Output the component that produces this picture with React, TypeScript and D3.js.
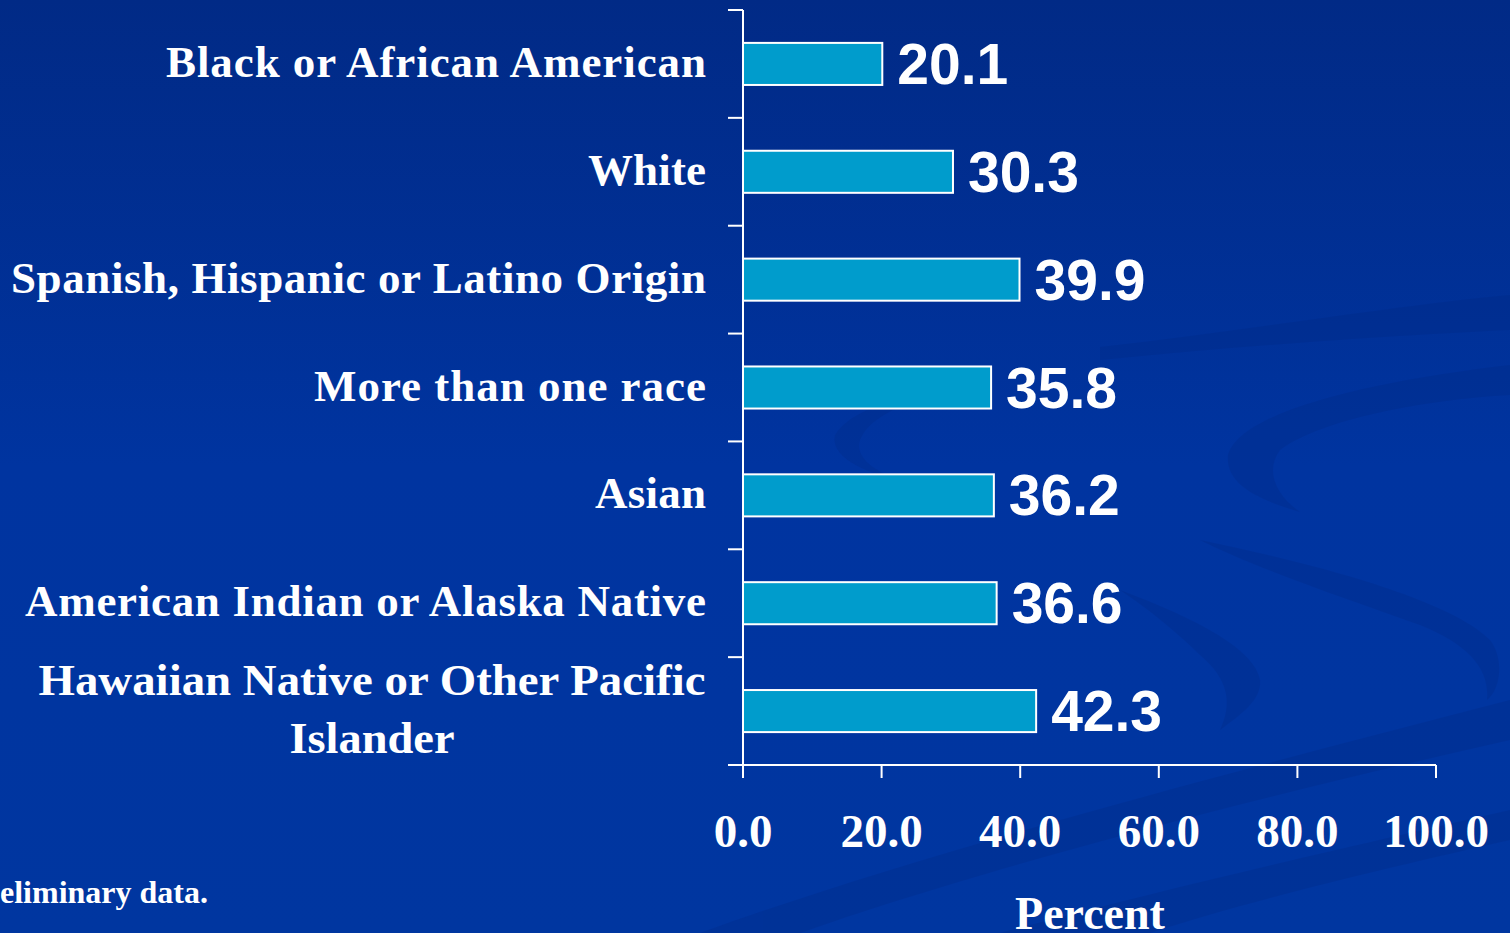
import React from "react";
import * as d3 from "d3";

// values
const categories = [
  "Black or African American",
  "White",
  "Spanish, Hispanic or Latino Origin",
  "More than one race",
  "Asian",
  "American Indian or Alaska Native",
  "Hawaiian Native or Other Pacific Islander",
];
const values = [20.1, 30.3, 39.9, 35.8, 36.2, 36.6, 42.3];
const xTicks = [0, 20, 40, 60, 80, 100];

const width = 1510;
const height = 933;
const serif = "'Liberation Serif', 'Times New Roman', serif";
const sans = "'Liberation Sans', Arial, sans-serif";

// measured label widths on the slide
const labelWidths = [540, 118, 695, 392, 111, 681, 667];

export default function App() {
  const x = d3.scaleLinear().domain([0, 100]).range([743, 1436]);
  const y = d3.scaleBand<string>()
    .domain(categories)
    .range([10, 765])
    .paddingInner(0.61)
    .paddingOuter(0.305);
  const step = y.step();
  const fmt = d3.format(".1f");

  return (
    <div style={{ position: "fixed", left: 0, top: 0 }}>
      <svg width={width} height={height} style={{ display: "block" }}>
        <defs>
          <linearGradient id="bg" x1="0" y1="0" x2="0" y2="1">
            <stop offset="0" stopColor="#012a86" />
            <stop offset="0.5" stopColor="#0034a0" />
            <stop offset="1" stopColor="#0036a0" />
          </linearGradient>
        </defs>
        <rect width={width} height={height} fill="url(#bg)" />

        {/* background swirls */}
        <g fill="#00287f" opacity={0.25}>
          <path d="M1100,347 C1250,330 1400,305 1510,295 L1510,330 C1400,335 1250,345 1100,360 Z" />
          <path d="M1510,365 C1380,380 1240,410 1228,455 C1225,485 1260,500 1300,512 C1275,495 1265,470 1280,450 C1320,420 1420,400 1510,395 Z" />
          <path d="M1200,540 C1320,565 1450,600 1490,640 C1505,660 1500,690 1487,700 C1490,670 1470,645 1420,625 C1350,600 1260,570 1200,540 Z" />
          <path d="M1120,590 C1200,620 1255,650 1260,680 C1262,700 1240,715 1220,730 C1232,705 1230,680 1200,655 C1180,635 1150,610 1120,590 Z" />
          <path d="M835,435 C850,410 900,395 960,388 C910,400 870,415 860,440 C855,455 870,470 900,480 C860,472 830,455 835,435 Z" />
          <path d="M700,933 C900,860 1200,780 1510,700 L1510,740 C1200,810 950,880 800,933 Z" />
          <path d="M1000,933 C1200,880 1380,840 1510,810 L1510,840 C1400,865 1250,900 1150,933 Z" />
        </g>

        {/* bars */}
        {categories.map((c, i) => (
          <rect
            key={c}
            x={x(0)}
            y={y(c)}
            width={x(values[i]) - x(0)}
            height={y.bandwidth()}
            fill="#009ccc"
            stroke="#ffffff"
            strokeWidth={2}
          />
        ))}

        {/* value labels */}
        {categories.map((c, i) => (
          <text
            key={c}
            x={x(values[i]) + 15}
            y={(y(c) as number) + y.bandwidth() / 2 + 20}
            fill="#ffffff"
            fontFamily={sans}
            fontWeight="bold"
            fontSize={57}
          >
            {fmt(values[i])}
          </text>
        ))}

        {/* category labels */}
        {categories.map((c, i) => {
          const cy = (y(c) as number) + y.bandwidth() / 2;
          if (i === categories.length - 1) {
            return (
              <text key={c} fill="#ffffff" fontFamily={serif} fontWeight="bold" fontSize={45} textAnchor="middle">
                <tspan x={372} y={cy - 16} textLength={667} lengthAdjust="spacingAndGlyphs">
                  Hawaiian Native or Other Pacific
                </tspan>
                <tspan x={372} y={cy + 42} textLength={165} lengthAdjust="spacingAndGlyphs">
                  Islander
                </tspan>
              </text>
            );
          }
          return (
            <text
              key={c}
              x={706}
              y={cy + 13}
              fill="#ffffff"
              fontFamily={serif}
              fontWeight="bold"
              fontSize={45}
              textAnchor="end"
              textLength={labelWidths[i]}
              lengthAdjust="spacing"
            >
              {c}
            </text>
          );
        })}

        {/* y axis */}
        <g stroke="#ffffff" strokeWidth={2}>
          <line x1={x(0)} x2={x(0)} y1={10} y2={765} />
          {d3.range(categories.length).map((k) => (
            <line key={k} x1={728} x2={x(0)} y1={10 + k * step} y2={10 + k * step} />
          ))}
          <line x1={728} x2={x(100)} y1={765} y2={765} />
          {xTicks.map((t) => (
            <line key={t} x1={x(t)} x2={x(t)} y1={765} y2={778} />
          ))}
        </g>

        {/* x tick labels */}
        {xTicks.map((t) => (
          <text
            key={t}
            x={x(t)}
            y={847}
            fill="#ffffff"
            fontFamily={serif}
            fontWeight="bold"
            fontSize={47}
            textAnchor="middle"
          >
            {fmt(t)}
          </text>
        ))}

        <text x={1090} y={929} fill="#ffffff" fontFamily={serif} fontWeight="bold" fontSize={46} textAnchor="middle">
          Percent
        </text>
        <text x={0} y={903} fill="#ffffff" fontFamily={serif} fontWeight="bold" fontSize={32}>
          eliminary data.
        </text>
      </svg>
    </div>
  );
}
